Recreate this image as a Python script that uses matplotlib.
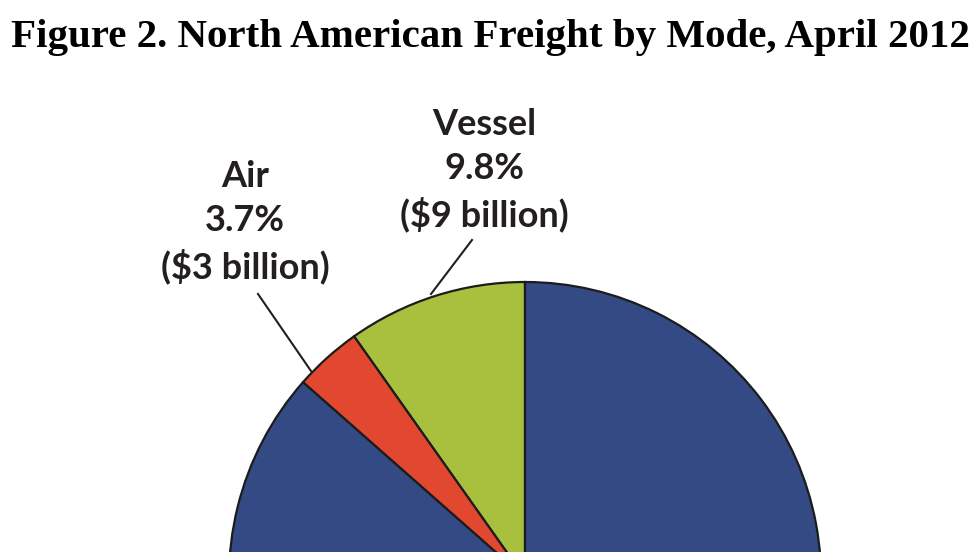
import matplotlib
matplotlib.use('Agg')
import matplotlib.pyplot as plt

# shares of North American freight by mode, April 2012 (percent)
modes = ['Vessel', 'Air', 'Rail', 'Pipeline', 'Other', 'Truck']
shares = [9.8, 3.7, 15.3, 7.6, 4.8, 58.8]
colors = ['#a9c03f', '#e2482f', '#344a84', '#344a84', '#344a84', '#344a84']

label_text = {
    'Vessel': 'Vessel\n9.8%\n($9 billion)',
    'Air': 'Air\n3.7%\n($3 billion)',
}

title = 'Figure 2. North American Freight by Mode, April 2012'

W, H = 980, 552
fig = plt.figure(figsize=(W / 100, H / 100), dpi=100)
ax = fig.add_axes([0, 0, 1, 1])

# pie is cut by the bottom of the figure, centre sits below the frame
wedges, _ = ax.pie(shares, colors=colors, startangle=90, counterclock=True,
                   center=(525, H - 578), radius=296,
                   wedgeprops=dict(edgecolor='#1c1c1c', linewidth=1.6))

ax.set_xlim(0, W)
ax.set_ylim(0, H)
ax.set_aspect('equal')
ax.axis('off')

fig.text(0.5, 1 - 38 / H, title, ha='center', va='center',
         family='Liberation Serif', weight='bold', fontsize=29.5)

# labels with leader lines
ax.text(484, H - 170, label_text['Vessel'], ha='center', va='center',
        family='Lato', weight='bold', fontsize=26, linespacing=1.4, color='#231f20')
ax.plot([472, 431], [H - 240, H - 294], color='#231f20', lw=1.5)

ax.text(245, H - 222, label_text['Air'], ha='center', va='center',
        family='Lato', weight='bold', fontsize=26, linespacing=1.4, color='#231f20')
ax.plot([258, 311], [H - 294, H - 371], color='#231f20', lw=1.5)

fig.savefig('out.png', dpi=100)
